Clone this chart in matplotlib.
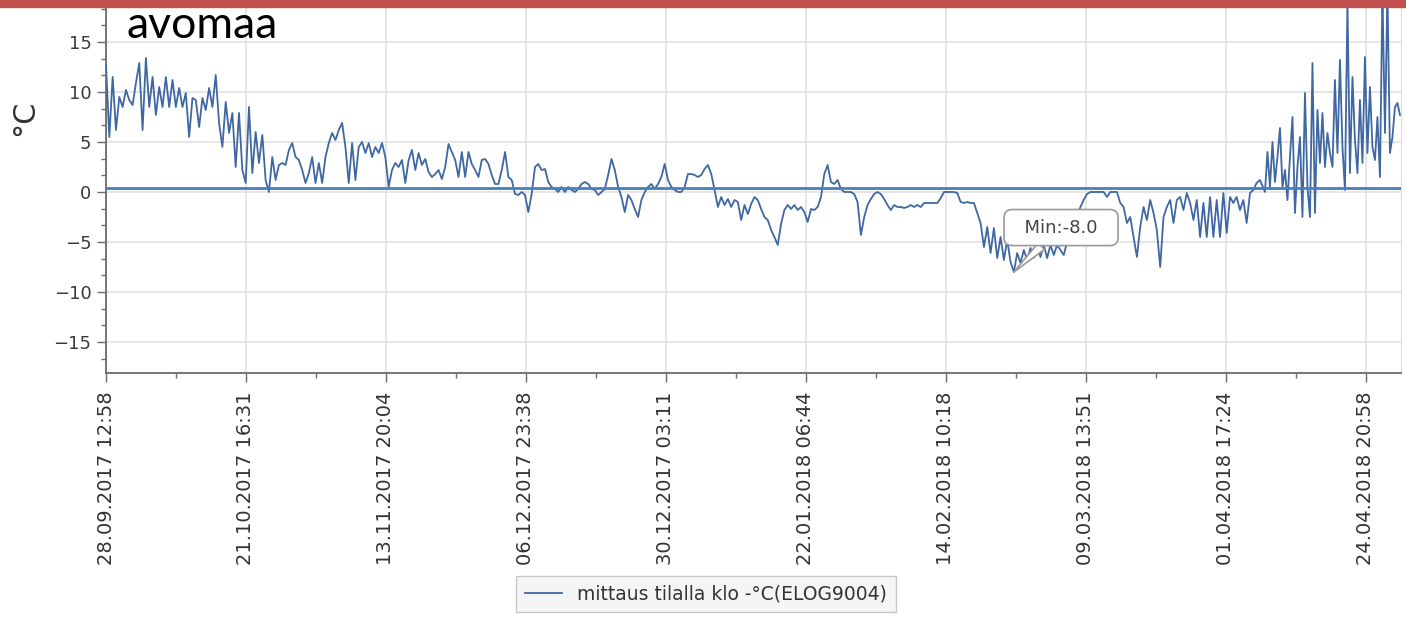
import matplotlib
matplotlib.use("Agg")
import matplotlib.pyplot as plt
import matplotlib.dates as mdates
from matplotlib.patches import Rectangle
from matplotlib.ticker import MultipleLocator
import numpy as np
import pandas as pd

# logger ELOG9004, readings roughly every 13 h (autumn + winter)
main_start, main_end = "2017-09-28 12:58", "2018-04-07 08:15"
temps_main = [
    12.7, 5.5, 11.5, 6.2, 9.5, 8.5, 10.2, 9.2, 8.7, 10.9, 12.9, 6.2, 13.4, 8.5, 11.5, 7.7,
    10.5, 8.5, 11.5, 8.5, 11.2, 8.5, 10.4, 8.5, 9.9, 5.5, 9.4, 9.2, 6.5, 9.4, 8.2, 10.4,
    8.5, 11.7, 6.9, 4.5, 9.0, 5.9, 7.9, 2.5, 7.9, 2.2, 0.9, 8.5, 1.9, 6.0, 2.9, 5.7,
    1.2, 0.0, 3.5, 1.2, 2.7, 2.9, 2.7, 4.2, 4.9, 3.5, 3.2, 2.2, 0.9, 1.9, 3.5, 0.9,
    2.9, 0.9, 3.5, 4.9, 5.9, 5.2, 6.2, 6.9, 4.5, 0.9, 4.9, 1.2, 4.5, 5.0, 3.9, 4.9,
    3.5, 4.5, 3.9, 4.9, 3.5, 0.5, 2.2, 2.9, 2.5, 3.2, 0.9, 3.2, 4.2, 2.2, 3.9,
    # mid Nov - Dec
    2.7, 3.3, 2.0, 1.5, 1.8, 2.2, 1.3, 2.5, 4.8, 4.0, 3.2, 1.5, 4.0, 1.5, 4.0, 2.8,
    2.2, 1.5, 3.2, 3.3, 2.8, 1.7, 0.8, 0.8, 2.2, 4.0, 1.5, 1.2, -0.2, -0.3, 0.0, -0.3,
    -2.0, -0.2, 2.5, 2.8, 2.2, 2.3, 1.0, 0.5, 0.3, 0.0, 0.5, 0.0, 0.5, 0.2, 0.0, 0.3,
    0.8, 1.0, 0.8, 0.3, 0.2, -0.3, 0.0, 0.3, 1.7, 3.3, 2.2, 0.5, -0.5, -2.0, -0.3, -0.8,
    -1.7, -2.5, -0.8, 0.0, 0.5, 0.8, 0.3, 0.8, 1.5, 2.8, 1.2, 0.5, 0.2, 0.0, 0.0, 0.5,
    1.8, 1.8, 1.7, 1.5, 1.7, 2.3, 2.7, 1.8, 0.2, -1.5, -0.5, -1.3, -0.7, -1.5, -0.8, -1.0,
    # January
    -2.8, -1.3, -2.2, -1.2, -0.5, -0.8, -1.7, -2.5, -2.8, -3.8, -4.5, -5.3, -3.2, -1.8, -1.3, -1.7,
    -1.3, -1.8, -1.5, -2.0, -3.0, -1.7, -1.8, -1.5, -0.5, 1.8, 2.7, 1.0, 0.8, 1.2, 0.3, 0.0,
    0.0, 0.0, -0.2, -1.0, -4.3, -2.5, -1.3, -0.7, -0.2, 0.0, -0.2, -0.7, -1.3, -1.8, -1.3, -1.5,
    -1.5, -1.6, -1.5, -1.3, -1.5, -1.3, -1.5, -1.1, -1.1, -1.1, -1.1, -1.1, -0.6, 0.0, 0.0, 0.0,
    0.0, -0.1,
    # February - early April
    -1.0, -1.1, -1.0, -1.1, -1.1, -2.1, -3.1, -5.5, -3.5, -6.1, -3.6, -6.6, -4.5, -6.8, -4.8, -7.0,
    -8.0, -6.1, -7.1, -5.8, -6.8, -5.6, -6.6, -5.5, -6.5, -5.3, -6.6, -5.3, -6.3, -5.3, -5.8, -6.3,
    -5.0, -4.5, -3.5, -2.5, -1.5, -0.8, -0.2, 0.0, 0.0, 0.0, 0.0, 0.0, -0.5, 0.0, 0.0, 0.0,
    -1.1, -1.5, -3.1, -2.5, -4.5, -6.5, -3.5, -1.5, -2.8, -0.8, -2.1, -3.8, -7.5, -2.5, -1.5, -0.8,
    -3.1, -0.8, -0.5, -1.8, -0.1, -1.1, -2.8, -0.8, -4.5, -1.1, -4.5, -0.5, -4.5, -0.8, -4.5, -0.1,
    -4.1, -0.5, -1.1, -0.5, -1.8, -0.8, -3.1, -0.1, 0.2, 0.9, 1.2,
]

# spring part, logged more often
spring_start, spring_end = "2018-04-08 04:10", "2018-04-30 11:50"
temps_spring = [
    0.0, 4.0, 0.5, 5.0, 1.0, 3.5, 6.4, 0.5, 2.2, -0.8, 3.5, 7.5, -2.1, 2.5, 5.5, -2.5,
    9.9, 0.5, -2.5, 12.9, -2.1, 8.2, 2.9, 7.9, 2.5, 5.9, 3.9, 2.5, 11.2, 3.9, 13.2, 4.5,
    0.2, 19.0, 1.9, 11.5, 5.2, 1.9, 9.2, 2.9, 13.5, 3.9, 10.5, 4.5, 3.2, 7.5, 1.5, 20.0,
    5.9, 20.0, 3.9, 5.5, 8.5, 8.9, 7.7,
]

ref_level = 0.4
tick_labels = ["28.09.2017 12:58", "21.10.2017 16:31", "13.11.2017 20:04",
               "06.12.2017 23:38", "30.12.2017 03:11", "22.01.2018 06:44",
               "14.02.2018 10:18", "09.03.2018 13:51", "01.04.2018 17:24",
               "24.04.2018 20:58"]
x_end = "2018-04-30 16:00"
series_label = "mittaus tilalla klo -°C(ELOG9004)"

times = np.concatenate([
    pd.date_range(main_start, main_end, periods=len(temps_main)).to_numpy(),
    pd.date_range(spring_start, spring_end, periods=len(temps_spring)).to_numpy(),
])
temps = np.array(temps_main + temps_spring)
ticks = pd.to_datetime(tick_labels, format="%d.%m.%Y %H:%M")

W, H = 1406, 628
fig = plt.figure(figsize=(W / 100, H / 100), dpi=100)
ax = fig.add_axes([106 / W, 1 - 373 / H, (1401 - 106) / W, (373 - 8) / H])

line, = ax.plot(times, temps, color="#3f67a2", lw=1.3, label=series_label, zorder=3)
ax.axhline(ref_level, color="#4a7ebb", lw=2.0, zorder=4)

# x axis: dates
tnum = mdates.date2num(ticks)
ax.set_xlim(tnum[0], mdates.date2num(pd.Timestamp(x_end)))
ax.set_xticks(tnum)
ax.set_xticklabels(tick_labels, rotation=90, fontsize=14, color="#333333")
ax.set_xticks((tnum[:-1] + tnum[1:]) / 2, minor=True)

ax.set_ylim(-18.1, 18.4)
ax.set_yticks([-15, -10, -5, 0, 5, 10, 15])
ax.yaxis.set_minor_locator(MultipleLocator(5 / 3))
ax.tick_params(axis="y", labelsize=13, labelcolor="#3a3a3a")

ax.tick_params(which="major", length=6.5, width=1.0, color="#6b6b6b", pad=4)
ax.tick_params(axis="x", which="major", pad=7)
ax.tick_params(which="minor", length=3.5, width=1.0, color="#6b6b6b")

ax.grid(True, which="major", color="#e2e2e2", lw=1.2, zorder=0)
ax.set_axisbelow(True)
for side in ("left", "bottom"):
    ax.spines[side].set_color("#6b6b6b")
    ax.spines[side].set_linewidth(1.3)
ax.spines["top"].set_visible(False)
ax.spines["right"].set_color("#dddddd")

# minimum callout
imin = int(np.argmin(temps))
ax.annotate(f"  Min:{temps[imin]:.1f}  ", xy=(times[imin], temps[imin]),
            xytext=(34, 32), textcoords="offset points",
            ha="center", va="center", fontsize=13, color="#444444",
            bbox=dict(boxstyle="round,pad=0.5,rounding_size=0.45",
                      fc="white", ec="#9a9a9a", lw=1.2),
            arrowprops=dict(arrowstyle="wedge,tail_width=0.5,shrink_factor=0.5",
                            fc="white", ec="#9a9a9a", lw=1.2, shrinkA=0, shrinkB=0),
            zorder=6)

# header band, title and unit
fig.patches.append(Rectangle((0, 1 - 7 / H), 1, 7 / H, transform=fig.transFigure,
                             color="#c0504d", zorder=10))
fig.text(126 / W, 1 - 38 / H, "avomaa", family="Lato", fontsize=32,
         color="black", va="baseline", ha="left")
fig.text(25 / W, 1 - 118 / H, "°C", rotation=90, fontsize=22, color="#333333",
         ha="center", va="center")

fig.legend(handles=[line], loc="center", bbox_to_anchor=(706 / W, 1 - 594 / H),
           fontsize=13.5, frameon=True, fancybox=False, edgecolor="#c8c8c8",
           facecolor="#f5f5f5", framealpha=1, handlelength=2.0, borderpad=0.45,
           labelcolor="#333333")

fig.savefig("out.png", dpi=100)
plt.close(fig)
